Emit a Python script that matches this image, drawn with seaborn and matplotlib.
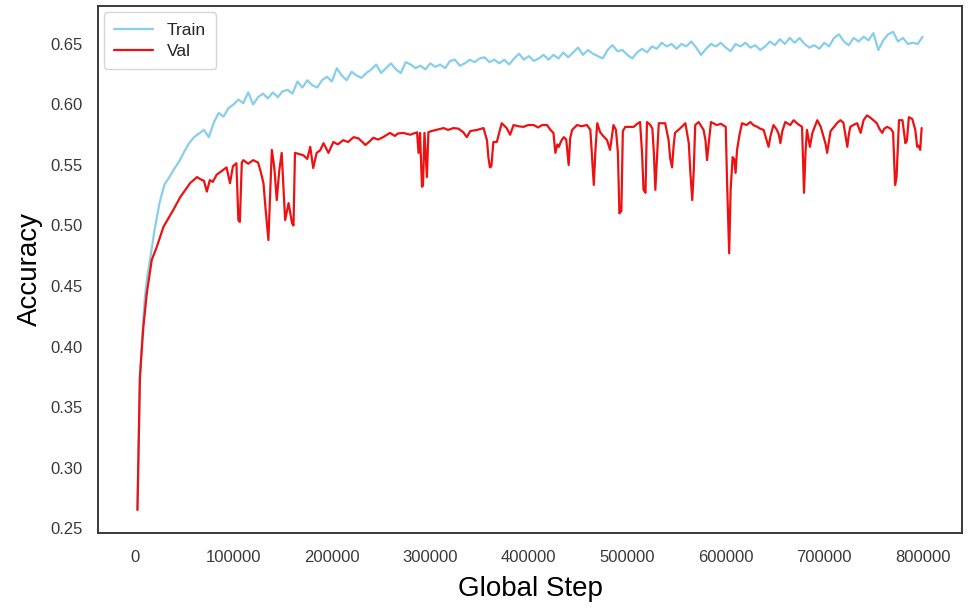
import numpy as np
import pandas as pd
import matplotlib
matplotlib.use("Agg")
import matplotlib.pyplot as plt
import seaborn as sns

# train accuracy, logged every 5000 steps (early steps denser)
train_steps = [2500, 5000, 7500, 10000, 12500] + list(range(15000, 800001, 5000))
train_acc = [
    0.265, 0.372, 0.412, 0.440, 0.458,
    0.470, 0.497, 0.519, 0.534, 0.540, 0.547, 0.553, 0.561, 0.568, 0.573,
    0.576, 0.579, 0.573, 0.585, 0.593, 0.590, 0.597, 0.600, 0.604, 0.601,
    0.610, 0.600, 0.606, 0.609, 0.605, 0.610, 0.606, 0.611, 0.612, 0.609,
    0.619, 0.614, 0.620, 0.616, 0.614, 0.620, 0.623, 0.619, 0.630, 0.624,
    0.620, 0.627, 0.624, 0.622, 0.626, 0.629, 0.633, 0.626, 0.630, 0.634,
    0.629, 0.626, 0.635, 0.633, 0.630, 0.632, 0.629, 0.634, 0.631, 0.633,
    0.630, 0.636, 0.637, 0.632, 0.634, 0.637, 0.635, 0.638, 0.639, 0.635,
    0.637, 0.634, 0.637, 0.633, 0.638, 0.642, 0.637, 0.640, 0.636, 0.638,
    0.641, 0.637, 0.641, 0.638, 0.643, 0.639, 0.643, 0.647, 0.641, 0.645,
    0.642, 0.640, 0.638, 0.645, 0.649, 0.644, 0.645, 0.641, 0.638, 0.643,
    0.646, 0.643, 0.648, 0.646, 0.651, 0.648, 0.650, 0.646, 0.650, 0.648,
    0.652, 0.647, 0.641, 0.646, 0.650, 0.648, 0.651, 0.647, 0.644, 0.650,
    0.648, 0.651, 0.647, 0.649, 0.645, 0.648, 0.652, 0.649, 0.654, 0.650,
    0.655, 0.651, 0.655, 0.650, 0.647, 0.649, 0.646, 0.651, 0.648, 0.655,
    0.658, 0.652, 0.649, 0.655, 0.652, 0.656, 0.653, 0.659, 0.645, 0.653,
    0.658, 0.660, 0.652, 0.655, 0.650, 0.651, 0.650, 0.656,
]

# validation accuracy (dips kept narrow)
val_steps = [
    2500, 5000, 8500, 12000, 17000, 22000, 29000, 39000, 46000, 56000,
    63000, 67000, 70000, 73000, 76000, 79000, 83000, 88000, 93000, 96500,
    99500, 103000, 105000, 106500, 108500, 110000, 115000, 120000, 125000, 127500,
    130500, 132500, 135500, 139000, 141500, 144000, 146500, 149000, 152500, 156000,
    159500, 161000, 162500, 171000, 175000, 178000, 181000, 184500, 188000, 191500,
    196500, 201500, 206000, 211500, 216500, 222000, 227000, 231000, 234000, 239000,
    242000, 247000, 252000, 255000, 259000, 264000, 267000, 272500, 279500, 286500,
    288000, 289500, 291500, 292500, 294000, 296500, 298000, 301000, 306000, 313500,
    318000, 323500, 328500, 333500, 337000, 340500, 347500, 354000, 357500, 359000,
    360500, 362000, 364000, 367500, 372500, 377500, 381000, 384500, 389500, 394500,
    399500, 405000, 409500, 413500, 418500, 422000, 425000, 427000, 429000, 430500,
    433000, 435500, 438000, 440500, 442000, 444000, 449000, 453500, 459000, 462500,
    464000, 466000, 467500, 469500, 472500, 475500, 479500, 482500, 486000, 488500,
    490500, 492000, 494000, 495500, 498000, 503000, 506500, 510000, 513000, 515000,
    516500, 518500, 520000, 523500, 525500, 527000, 528500, 530500, 532000, 538500,
    542000, 543500, 545500, 547000, 548500, 554000, 559000, 562500, 564000, 566000,
    567500, 569000, 572500, 577500, 579500, 581000, 583000, 585000, 591000, 595000,
    600000, 601500, 603500, 605000, 607000, 608500, 610000, 611500, 614000, 616500,
    621000, 625000, 628000, 632000, 635000, 638500, 641000, 643500, 645500, 648500,
    652000, 654000, 655500, 657500, 660500, 665500, 669000, 673000, 677500, 679500,
    681000, 682500, 685500, 688000, 693000, 696500, 699500, 701500, 703000, 705000,
    706500, 710000, 713500, 716500, 719500, 721500, 723500, 725000, 726500, 729500,
    733500, 737000, 740000, 743500, 747000, 750000, 753500, 756000, 759000, 761000,
    764000, 767500, 770000, 772000, 773500, 776000, 779500, 782500, 784000, 786000,
    789500, 792500, 794500, 796000, 797500, 799000,
]
val_acc = [
    0.265, 0.375, 0.416, 0.444, 0.4715, 0.482, 0.499, 0.513, 0.5235, 0.535,
    0.540, 0.538, 0.537, 0.528, 0.5375, 0.536, 0.542, 0.545, 0.548, 0.535,
    0.549, 0.5515, 0.5045, 0.503, 0.552, 0.554, 0.551, 0.554, 0.552, 0.545,
    0.535, 0.515, 0.488, 0.5625, 0.548, 0.521, 0.545, 0.560, 0.5045, 0.5185,
    0.502, 0.500, 0.560, 0.558, 0.555, 0.565, 0.5475, 0.560, 0.562, 0.568,
    0.560, 0.569, 0.567, 0.5705, 0.569, 0.573, 0.572, 0.569, 0.5665, 0.570,
    0.5725, 0.571, 0.573, 0.5745, 0.5765, 0.574, 0.576, 0.5765, 0.575, 0.577,
    0.560, 0.5765, 0.532, 0.533, 0.5765, 0.540, 0.577, 0.578, 0.579, 0.5805,
    0.579, 0.5805, 0.580, 0.577, 0.573, 0.578, 0.579, 0.5805, 0.5705, 0.556,
    0.548, 0.549, 0.569, 0.569, 0.5845, 0.5805, 0.575, 0.583, 0.582, 0.5815,
    0.583, 0.583, 0.581, 0.583, 0.583, 0.579, 0.5765, 0.560, 0.567, 0.565,
    0.570, 0.573, 0.571, 0.550, 0.572, 0.579, 0.583, 0.582, 0.583, 0.579,
    0.560, 0.5335, 0.560, 0.5845, 0.577, 0.574, 0.5705, 0.5625, 0.583, 0.579,
    0.560, 0.510, 0.512, 0.578, 0.5815, 0.5815, 0.5815, 0.584, 0.5855, 0.560,
    0.5295, 0.527, 0.5855, 0.583, 0.580, 0.560, 0.5295, 0.560, 0.5845, 0.5845,
    0.5705, 0.556, 0.548, 0.565, 0.5765, 0.5805, 0.5845, 0.568, 0.545, 0.521,
    0.545, 0.583, 0.5855, 0.579, 0.570, 0.554, 0.570, 0.5855, 0.583, 0.584,
    0.5815, 0.532, 0.477, 0.530, 0.5565, 0.555, 0.5435, 0.5625, 0.575, 0.5845,
    0.583, 0.5855, 0.583, 0.5815, 0.580, 0.579, 0.572, 0.565, 0.574, 0.583,
    0.579, 0.575, 0.568, 0.578, 0.5855, 0.583, 0.587, 0.584, 0.5815, 0.527,
    0.560, 0.579, 0.565, 0.5765, 0.587, 0.5815, 0.573, 0.567, 0.560, 0.570,
    0.578, 0.5815, 0.585, 0.587, 0.585, 0.575, 0.565, 0.575, 0.5815, 0.583,
    0.5845, 0.5765, 0.587, 0.591, 0.589, 0.587, 0.5845, 0.580, 0.5765, 0.580,
    0.5815, 0.580, 0.577, 0.5335, 0.540, 0.587, 0.587, 0.568, 0.570, 0.5895,
    0.588, 0.579, 0.565, 0.566, 0.5625, 0.5805,
]

train_df = pd.DataFrame({"step": train_steps, "acc": train_acc})
val_df = pd.DataFrame({"step": val_steps, "acc": val_acc})

sns.set_style("white")
plt.rcParams["font.family"] = ["Liberation Sans", "DejaVu Sans"]
plt.rcParams["axes.edgecolor"] = "#3a3a3a"
plt.rcParams["axes.linewidth"] = 1.4

fig = plt.figure(figsize=(9.69, 6.09), dpi=100)
ax = fig.add_axes([0.1011, 0.1248, 0.8917, 0.8654])

sns.lineplot(data=train_df, x="step", y="acc", color="skyblue", lw=1.6,
             label="Train", ax=ax, estimator=None)
sns.lineplot(data=val_df, x="step", y="acc", color="#ee1111", lw=1.6,
             label="Val", ax=ax, estimator=None)

ax.set_xlim(-37600, 840000)
ax.set_ylim(0.2459, 0.6814)
ax.set_yticks([0.25, 0.30, 0.35, 0.40, 0.45, 0.50, 0.55, 0.60, 0.65])
ax.set_yticklabels(["0.25", "0.30", "0.35", "0.40", "0.45", "0.50", "0.55", "0.60", "0.65"])
ax.set_xticks(range(0, 800001, 100000))
ax.set_xticklabels([str(v) for v in range(0, 800001, 100000)])
ax.tick_params(axis="both", length=0, labelsize=12, labelcolor="#3a3a3a")
ax.tick_params(axis="x", pad=12)
ax.tick_params(axis="y", pad=11)

ax.set_xlabel("Global Step", fontsize=20, labelpad=8, color="black")
ax.set_ylabel("Accuracy", fontsize=20, labelpad=5, color="black")

ax.legend(loc="upper left", fontsize=12.5, borderaxespad=0.35, borderpad=0.6,
          labelspacing=0.35, handlelength=2.2, handletextpad=0.8, frameon=True)

fig.savefig("out.png", dpi=100)
